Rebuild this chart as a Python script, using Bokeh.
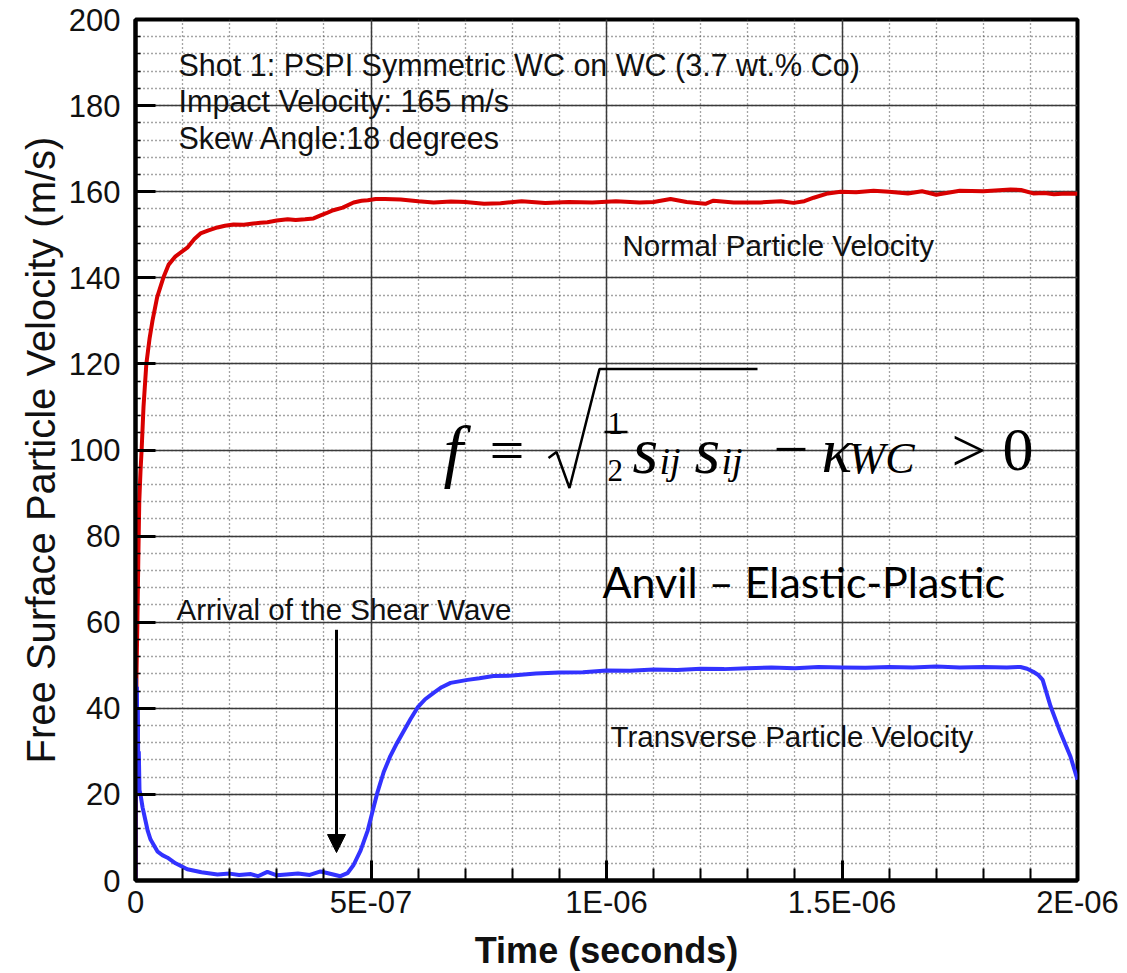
from bokeh.plotting import figure
from bokeh.models import (Range1d, SingleIntervalTicker, CustomJSTickFormatter,
                          Label, Arrow, NormalHead)
from bokeh.embed import file_html
from bokeh.resources import INLINE

# ---------------- data ----------------
t_normal = [0, 2e-9, 4e-9, 6e-9, 8e-9, 1.06e-8, 1.3e-8, 1.7e-8, 2.3e-8, 3.0e-8,
            3.6e-8, 4.6e-8, 5.9e-8, 7.0e-8, 8.5e-8, 1.1e-7, 1.25e-7, 1.38e-7, 1.55e-7, 1.74e-7,
            1.9e-7, 2.08e-7, 2.3e-7, 2.5e-7, 2.65e-7, 2.8e-7, 3.0e-7, 3.23e-7, 3.4e-7, 3.6e-7,
            3.78e-7, 3.93e-7, 4.05e-7, 4.2e-7, 4.4e-7, 4.63e-7, 4.8e-7, 4.93e-7, 5.1e-7, 5.3e-7,
            5.63e-7, 6.0e-7, 6.33e-7, 6.7e-7, 7.0e-7, 7.4e-7, 7.75e-7, 8.2e-7, 8.7e-7, 9.2e-7,
            9.7e-7, 1.02e-6, 1.07e-6, 1.1e-6, 1.136e-6, 1.17e-6, 1.21e-6, 1.227e-6, 1.27e-6, 1.327e-6,
            1.37e-6, 1.397e-6, 1.42e-6, 1.44e-6, 1.47e-6, 1.497e-6, 1.53e-6, 1.567e-6, 1.6e-6, 1.64e-6,
            1.67e-6, 1.70e-6, 1.75e-6, 1.8e-6, 1.858e-6, 1.88e-6, 1.906e-6, 1.93e-6, 1.95e-6, 1.975e-6,
            2.0e-6]
v_normal = [0, 47, 60, 75, 88, 95, 100, 110, 120, 126,
            130, 135.5, 140, 143, 145, 147, 149, 150.3, 151, 151.7,
            152.1, 152.4, 152.3, 152.6, 152.8, 152.9, 153.3, 153.6, 153.4, 153.6,
            153.8, 154.5, 155.0, 155.7, 156.3, 157.5, 157.9, 158.0, 158.3, 158.3,
            158.2, 157.8, 157.5, 157.7, 157.6, 157.2, 157.3, 157.8, 157.4, 157.6,
            157.5, 157.8, 157.5, 157.6, 158.3, 157.6, 157.2, 157.9, 157.5, 157.5,
            157.8, 157.4, 157.8, 158.6, 159.6, 160.0, 159.9, 160.2, 160.0, 159.6,
            160.1, 159.3, 160.2, 160.1, 160.5, 160.4, 159.6, 159.7, 159.4, 159.6,
            159.5]

t_trans = [0, 1e-9, 2e-9, 3e-9, 4e-9, 5e-9, 6e-9, 7e-9, 8.5e-9, 1.06e-8,
           1.5e-8, 2.1e-8, 2.6e-8, 3.2e-8, 4.0e-8, 4.7e-8, 5.7e-8, 6.8e-8, 8.5e-8, 1.1e-7,
           1.4e-7, 1.74e-7, 2.0e-7, 2.2e-7, 2.45e-7, 2.6e-7, 2.8e-7, 3.0e-7, 3.2e-7, 3.45e-7,
           3.7e-7, 3.93e-7, 4.2e-7, 4.35e-7, 4.5e-7, 4.63e-7, 4.78e-7, 4.93e-7, 5.05e-7, 5.14e-7,
           5.27e-7, 5.41e-7, 5.55e-7, 5.69e-7, 5.84e-7, 5.99e-7, 6.15e-7, 6.33e-7, 6.5e-7, 6.69e-7,
           7.05e-7, 7.3e-7, 7.6e-7, 8.0e-7, 8.5e-7, 9.0e-7, 9.5e-7, 1.0e-6, 1.05e-6, 1.1e-6,
           1.15e-6, 1.2e-6, 1.25e-6, 1.3e-6, 1.35e-6, 1.4e-6, 1.45e-6, 1.5e-6, 1.55e-6, 1.6e-6,
           1.65e-6, 1.7e-6, 1.75e-6, 1.8e-6, 1.85e-6, 1.879e-6, 1.893e-6, 1.906e-6, 1.916e-6, 1.926e-6,
           1.943e-6, 1.964e-6, 1.985e-6, 2.0e-6]
v_trans = [0, 47, 28, 45, 24, 40, 22, 30, 21, 20,
           17, 14, 11.5, 9.5, 8.0, 6.7, 5.9, 5.3, 4.0, 2.6,
           1.9, 1.4, 1.6, 1.3, 1.5, 1.0, 2.0, 1.2, 1.4, 1.6,
           1.3, 2.1, 1.4, 1.0, 1.7, 3.6, 7.0, 11.6, 16.8, 20.6,
           25.2, 28.9, 31.9, 34.6, 37.5, 40.2, 42.1, 43.6, 44.9, 45.9,
           46.6, 47.0, 47.5, 47.6, 48.1, 48.3, 48.4, 48.8, 48.7, 49.0,
           48.9, 49.2, 49.1, 49.3, 49.5, 49.3, 49.6, 49.5, 49.4, 49.6,
           49.5, 49.7, 49.5, 49.6, 49.5, 49.6, 49.2, 48.5, 47.8, 46.6,
           40.4, 34.3, 28.8, 23.4]

x_range = (0, 2e-6)
y_range = (0, 200)

# ---------------- figure ----------------
W, H = 1127, 973
p = figure(width=W, height=H, output_backend="svg", toolbar_location=None,
           x_range=Range1d(*x_range), y_range=Range1d(*y_range),
           min_border_left=135, min_border_right=50, min_border_top=19,
           min_border_bottom=92,
           x_axis_label="Time (seconds)",
           y_axis_label="Free Surface Particle Velocity (m/s)")
p.background_fill_color = "white"
p.border_fill_color = "white"
p.outline_line_color = "black"
p.outline_line_width = 4

p.xaxis.ticker = SingleIntervalTicker(interval=5e-7, num_minor_ticks=5)
p.yaxis.ticker = SingleIntervalTicker(interval=20, num_minor_ticks=5)
p.xaxis.formatter = CustomJSTickFormatter(code="""
if (Math.abs(tick) < 1e-15) { return "0"; }
const s = Number(tick.toPrecision(6)).toExponential();
const parts = s.split("e");
const e = parseInt(parts[1]);
const sign = e < 0 ? "-" : "+";
return parts[0] + "E" + sign + String(Math.abs(e)).padStart(2, "0");
""")

for ax in (p.xaxis[0], p.yaxis[0]):
    ax.axis_line_width = 4
    ax.axis_line_color = "black"
    ax.major_tick_in = 20
    ax.major_tick_out = 0
    ax.major_tick_line_width = 3
    ax.major_tick_line_color = "black"
    ax.minor_tick_out = 0
    ax.minor_tick_line_color = "black"
    ax.major_label_text_font = "Liberation Sans"
    ax.major_label_text_font_size = "31px"
    ax.major_label_text_color = "#111111"
    ax.axis_label_text_font = "Liberation Sans"
    ax.axis_label_text_color = "#111111"

p.xaxis.minor_tick_in = 12
p.xaxis.minor_tick_line_width = 2
p.yaxis.minor_tick_in = 5
p.yaxis.minor_tick_line_width = 1.5
p.xaxis.major_label_standoff = 4
p.yaxis.major_label_standoff = 15
p.xaxis.axis_label_text_font_size = "36px"
p.xaxis.axis_label_text_font_style = "bold"
p.xaxis.axis_label_standoff = 7
p.yaxis.axis_label_text_font_size = "40px"
p.yaxis.axis_label_text_font_style = "normal"
p.yaxis.axis_label_standoff = 3

for g in (p.xgrid[0], p.ygrid[0]):
    g.grid_line_color = "#3a3a3a"
    g.grid_line_width = 1.5
    g.minor_grid_line_color = "#4a4a4a"
    g.minor_grid_line_width = 1.3
    g.minor_grid_line_dash = "1 3"

# ---------------- curves ----------------
p.line(t_normal, v_normal, line_color="#d80000", line_width=4)
p.line(t_trans, v_trans, line_color="#3232ff", line_width=4)

# ---------------- annotations (page pixel -> data helpers) ----------------
def dx(px):
    return (px - 135) / 942 * (x_range[1] - x_range[0])

def dy(py):
    return (881 - py) / 862 * (y_range[1] - y_range[0])

notes = [
    ("Shot 1: PSPI Symmetric WC on WC (3.7 wt.% Co)", 178, 65, "30.5px"),
    ("Impact Velocity: 165 m/s", 178, 101, "30.5px"),
    ("Skew Angle:18 degrees", 178, 138, "30.5px"),
    ("Normal Particle Velocity", 622, 245, "29.5px"),
    ("Transverse Particle Velocity", 610, 737, "29.5px"),
    ("Arrival of the Shear Wave", 176, 610, "29.5px"),
]
for txt, px, py, fs in notes:
    p.add_layout(Label(x=dx(px), y=dy(py), text=txt, text_font="Liberation Sans",
                       text_font_size=fs, text_color="#111111",
                       text_baseline="alphabetic", text_align="left"))

p.add_layout(Label(x=dx(602), y=dy(582), text="Anvil \u2013 Elastic-Plastic",
                   text_font="Lato", text_font_size="43px", text_color="black",
                   text_baseline="alphabetic", text_align="left"))

formula = [
    ("f", 443, 450, "70px", "italic"),
    ("=", 489, 450, "62px", "normal"),
    ("1", 607, 423, "31px", "normal"),
    ("2", 607, 471, "31px", "normal"),
    ("s", 632, 450, "66px", "italic"),
    ("ij", 659, 461, "38px", "italic"),
    ("s", 694, 450, "66px", "italic"),
    ("ij", 721, 461, "38px", "italic"),
    ("\u2212", 773, 450, "62px", "normal"),
    ("\u03ba", 821, 450, "64px", "italic"),
    ("WC", 848, 459, "44px", "italic"),
    (">", 951, 450, "62px", "normal"),
    ("0", 1002, 450, "62px", "normal"),
]
for txt, px, py, fs, st in formula:
    p.add_layout(Label(x=dx(px), y=dy(py), text=txt, text_font="Liberation Serif",
                       text_font_size=fs, text_font_style=st, text_color="black",
                       text_baseline="alphabetic", text_align="left"))

# radical sign and fraction bar
p.line([dx(548), dx(556), dx(569), dx(599), dx(757)],
       [dy(458), dy(452), dy(488), dy(369), dy(369)],
       line_color="black", line_width=2.5)
p.line([dx(604), dx(627)], [dy(432), dy(432)], line_color="black", line_width=2.5)

# arrow marking the shear-wave arrival
p.add_layout(Arrow(x_start=dx(336), y_start=dy(630), x_end=dx(336), y_end=dy(853),
                   line_color="black", line_width=3,
                   end=NormalHead(size=18, fill_color="black", line_color="black")))

open("out.html", "w").write(file_html(p, INLINE))
